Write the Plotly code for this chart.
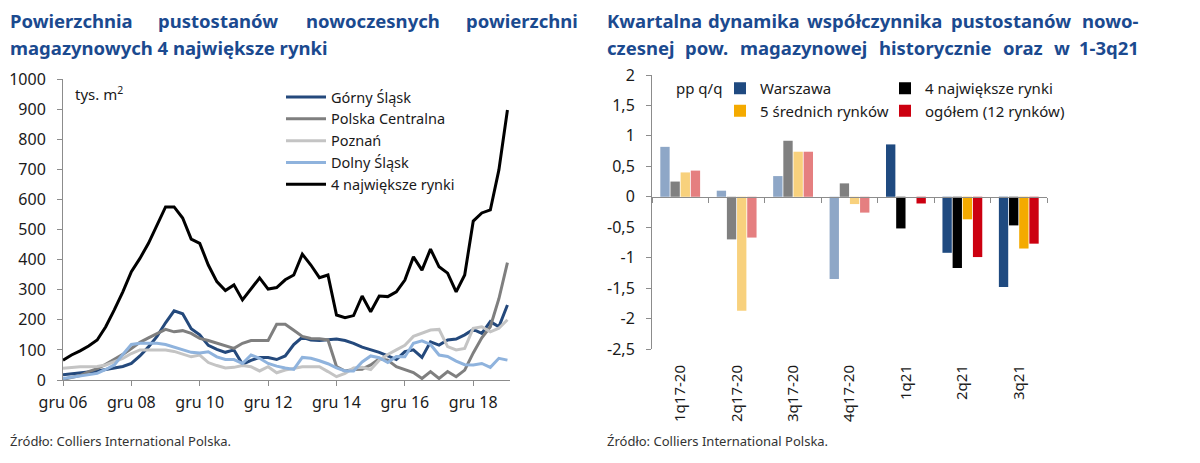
import plotly.graph_objects as go

# ---------------- data: left chart (tys. m2, quarterly, gru 06 .. gru 19)
months = ["gru", "mar", "cze", "wrz"]
quarters = [f"{months[i % 4]} {6 + (i + 3) // 4:02d}" for i in range(53)]
tick_labels = ["gru 06", "gru 08", "gru 10", "gru 12", "gru 14", "gru 16", "gru 18"]

gorny_slask = [17, 20, 24, 27, 30, 35, 39, 45, 55, 80,
               110, 145, 190, 230, 220, 170, 150, 115, 102, 92,
               100, 52, 65, 75, 75, 68, 80, 118, 142, 133,
               131, 133, 136, 131, 122, 109, 100, 92, 80, 68,
               94, 100, 75, 127, 116, 133, 136, 150, 168, 155,
               194, 177, 249]
polska_centralna = [2, 8, 15, 28, 38, 52, 68, 85, 105, 125,
                    140, 155, 168, 160, 164, 155, 138, 131, 122, 113,
                    105, 122, 131, 131, 131, 185, 185, 165, 145, 138,
                    137, 133, 45, 30, 35, 36, 50, 70, 66, 44,
                    35, 25, 5, 28, 5, 28, 11, 33, 90, 140,
                    177, 270, 390]
poznan = [39, 42, 44, 44, 45, 50, 60, 72, 88, 100,
          100, 100, 100, 95, 85, 77, 83, 58, 48, 40,
          42, 48, 44, 30, 44, 24, 33, 39, 44, 44,
          44, 28, 11, 22, 40, 42, 35, 66, 85, 100,
          115, 145, 155, 166, 168, 111, 100, 105, 172, 177,
          160, 172, 200]
dolny_slask = [5, 9, 13, 17, 22, 35, 50, 85, 118, 122,
               122, 122, 118, 110, 100, 92, 90, 94, 77, 68,
               68, 55, 83, 72, 55, 46, 40, 35, 75, 72,
               64, 54, 40, 30, 30, 60, 80, 74, 58, 78,
               77, 122, 130, 118, 83, 78, 63, 51, 50, 55,
               42, 72, 66]
cztery_najwieksze = [66, 83, 97, 113, 133, 177, 233, 293, 360, 404,
                     454, 515, 575, 575, 538, 468, 454, 382, 327, 297,
                     316, 266, 302, 339, 302, 307, 333, 349, 418, 382,
                     340, 349, 216, 207, 214, 279, 227, 279, 277, 293,
                     332, 409, 365, 435, 376, 355, 293, 349, 528, 555,
                     565, 698, 897]

# ---------------- data: right chart (pp q/q)
periods = ["1q17-20", "2q17-20", "3q17-20", "4q17-20", "1q21", "2q21", "3q21"]
warszawa = [0.82, 0.10, 0.34, -1.35, 0.86, -0.92, -1.48]
najwieksze4 = [0.25, -0.70, 0.92, 0.22, -0.52, -1.17, -0.47]
srednie5 = [0.40, -1.87, 0.74, -0.12, 0.0, -0.37, -0.85]
ogolem12 = [0.43, -0.67, 0.74, -0.26, -0.11, -0.99, -0.77]
y2_ticks = [2, 1.5, 1, 0.5, 0, -0.5, -1, -1.5, -2, -2.5]
y2_ticktext = ["2", "1,5", "1", "0,5", "0", "-0,5", "-1", "-1,5", "-2", "-2,5"]

FONT = "Noto Sans"
TXT = "#1a1a1a"
AX = "#8c8c8c"
TITLE = "#1b4a8f"

W, H, OFF = 1200, 463, 8   # page body offset of the figure


def px(p):
    return (p - OFF) / W


def py(p):
    return 1 - (p - OFF) / H


fig = go.Figure()

line_series = [
    ("Górny Śląsk", gorny_slask, "#24497c"),
    ("Polska Centralna", polska_centralna, "#7f7f7f"),
    ("Poznań", poznan, "#c4c4c4"),
    ("Dolny Śląsk", dolny_slask, "#8fb3dd"),
    ("4 największe rynki", cztery_najwieksze, "#000000"),
]
for name, vals, col in line_series:
    fig.add_trace(go.Scatter(x=quarters, y=vals, name=name, mode="lines",
                             line=dict(color=col, width=3), xaxis="x", yaxis="y",
                             legend="legend"))

bar_series = [
    ("Warszawa", warszawa, "#8ea7c7", "#1f4a80", "legend2", "g1"),
    ("4 największe rynki", najwieksze4, "#808080", "#000000", "legend3", "g2"),
    ("5 średnich rynków", srednie5, "#f8d17d", "#f4aa00", "legend2", "g3"),
    ("ogółem (12 rynków)", ogolem12, "#e57f80", "#cc0010", "legend3", "g4"),
]
for name, vals, hist_col, col, leg, grp in bar_series:
    fig.add_trace(go.Bar(x=periods[:4], y=vals[:4], name=name, marker_color=hist_col,
                         marker_line_width=0, xaxis="x2", yaxis="y2", offsetgroup=grp,
                         showlegend=False))
    fig.add_trace(go.Bar(x=periods[4:], y=vals[4:], name=name, marker_color=col,
                         marker_line_width=0, xaxis="x2", yaxis="y2", offsetgroup=grp,
                         legend=leg))

# helper trace to carry the zero axis line with boundary ticks
fig.add_trace(go.Scatter(x=periods, y=[None] * len(periods), xaxis="x3", yaxis="y2",
                         showlegend=False, hoverinfo="skip", mode="lines"))

fig.update_layout(
    width=W, height=H,
    margin=dict(l=0, r=0, t=0, b=0, autoexpand=False),
    paper_bgcolor="white", plot_bgcolor="white",
    font=dict(family=FONT, size=15, color=TXT),
    barmode="group", bargap=0.28, bargroupgap=0.08,
    xaxis=dict(domain=[px(63), px(510)], type="category", categoryorder="array",
               categoryarray=quarters, range=[0, 52.3], automargin=False,
               tickmode="array", tickvals=tick_labels, ticktext=tick_labels,
               ticks="outside", ticklen=5, tickcolor=AX, showline=True, linecolor=AX,
               linewidth=1, showgrid=False, tickfont=dict(size=16), tickangle=0,
               ticklabelstandoff=3),
    yaxis=dict(domain=[py(380), py(79)], range=[0, 1000], dtick=100, ticks="outside",
               ticklen=5, tickcolor=AX, showline=True, linecolor=AX, linewidth=1,
               showgrid=False, zeroline=False, tickfont=dict(size=16),
               ticklabelstandoff=8, automargin=False),
    xaxis2=dict(domain=[px(652), px(1047)], type="category", categoryorder="array",
                categoryarray=periods, range=[-0.5, 6.5], anchor="y2", automargin=False,
                showline=False, showgrid=False, ticks="outside", ticklen=9,
                tickcolor="rgba(0,0,0,0)", tickangle=-90, tickfont=dict(size=15)),
    xaxis3=dict(domain=[px(652), px(1047)], type="category", categoryorder="array",
                categoryarray=periods, range=[-0.5, 6.5], overlaying="x2",
                anchor="free", position=py(196.8), showticklabels=False, showline=True,
                linecolor=AX, linewidth=1, ticks="outside", tickson="boundaries",
                ticklen=5, tickcolor=AX, showgrid=False, automargin=False),
    yaxis2=dict(domain=[py(349), py(75)], range=[-2.5, 2], anchor="x2",
                tickmode="array", tickvals=y2_ticks, ticktext=y2_ticktext,
                ticks="outside", ticklen=5, tickcolor=AX, showline=True, linecolor=AX,
                linewidth=1, showgrid=False, zeroline=False, tickfont=dict(size=16),
                ticklabelstandoff=8, automargin=False),
    legend=dict(x=px(281), y=py(81), xanchor="left", yanchor="top",
                bgcolor="rgba(0,0,0,0)", font=dict(size=14.5), itemwidth=40,
                tracegroupgap=0, traceorder="normal"),
    legend2=dict(x=px(720), y=py(72), xanchor="left", yanchor="top",
                 bgcolor="rgba(0,0,0,0)", font=dict(size=15), traceorder="normal"),
    legend3=dict(x=px(885), y=py(72), xanchor="left", yanchor="top",
                 bgcolor="rgba(0,0,0,0)", font=dict(size=15), traceorder="normal"),
)

ann = []


def txt(x, y, s, size=15, color=TXT, xa="left", bold=False, ya="middle"):
    ann.append(dict(x=px(x), y=py(y), xref="paper", yref="paper",
                    text=(f"<b>{s}</b>" if bold else s),
                    showarrow=False, xanchor=xa, yanchor=ya,
                    font=dict(family=FONT, size=size, color=color)))


# titles (justified lines)
TS = 18.5
L1, L2 = 20.5, 48
left_l1 = [("Powierzchnia", 8, "left"), ("pustostanów", 218, "center"),
           ("nowoczesnych", 373, "center"), ("powierzchni", 580, "right")]
for w, xp, xa in left_l1:
    txt(xp, L1, w, TS, TITLE, xa, True)
txt(8, L2, "magazynowych 4 największe rynki", TS, TITLE, "left", True)

right_l1 = [("Kwartalna", 605, "left"), ("dynamika", 753, "center"),
            ("współczynnika", 874, "center"), ("pustostanów", 1011, "center"),
            ("nowo-", 1141, "right")]
for w, xp, xa in right_l1:
    txt(xp, L1, w, TS, TITLE, xa, True)
right_l2 = [("czesnej", 605, "left"), ("pow.", 706, "center"),
            ("magazynowej", 803, "center"), ("historycznie", 935, "center"),
            ("oraz", 1023, "center"), ("w", 1062, "center"), ("1-3q21", 1141, "right")]
for w, xp, xa in right_l2:
    txt(xp, L2, w, TS, TITLE, xa, True)

txt(73, 94, "tys. m<sup>2</sup>", 15)
txt(674, 88, "pp q/q", 15)
txt(8, 441, "Źródło: Colliers International Polska.", 13, "#333333")
txt(605, 441, "Źródło: Colliers International Polska.", 13, "#333333")

fig.update_layout(annotations=ann)
fig.write_html("out.html")
